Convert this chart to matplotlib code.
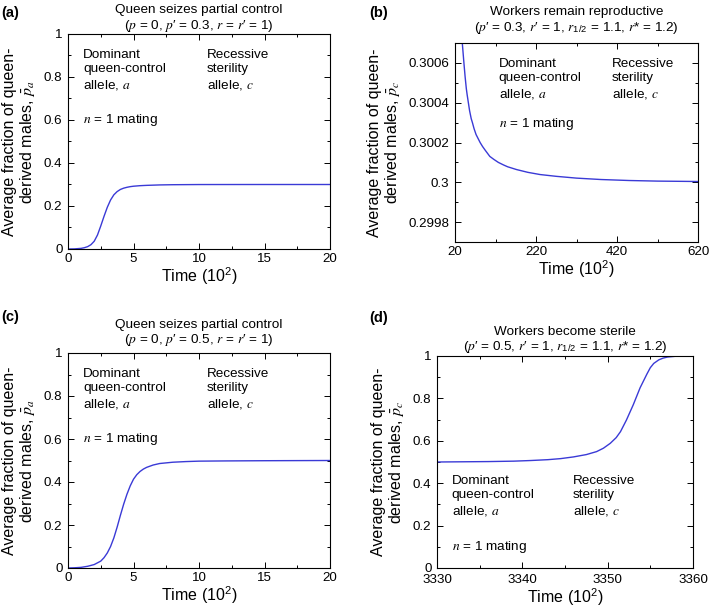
import numpy as np
import matplotlib
matplotlib.use("Agg")
import matplotlib.pyplot as plt
from matplotlib.ticker import MultipleLocator, FuncFormatter

plt.rcParams['font.family'] = ['Liberation Sans', 'DejaVu Sans']
plt.rcParams['mathtext.fontset'] = 'custom'
plt.rcParams['mathtext.rm'] = 'Liberation Sans'
plt.rcParams['mathtext.it'] = 'STIXGeneral:italic'
plt.rcParams['mathtext.bf'] = 'Liberation Sans:bold'
plt.rcParams['mathtext.sf'] = 'Liberation Sans'

# values
# (a) queen control, p' = 0.3
t_a = [0, 0.5, 1.0, 1.25, 1.5, 1.75, 2.0, 2.25, 2.5, 2.75, 3.0, 3.25, 3.5,
       3.75, 4.0, 4.25, 4.5, 4.75, 5.0, 5.5, 6.0, 7.0, 8.0, 10.0, 15.0, 20.0]
p_a = [0, 0.0005, 0.003, 0.006, 0.011, 0.02, 0.036, 0.065, 0.107, 0.152, 0.194,
       0.228, 0.252, 0.267, 0.277, 0.283, 0.287, 0.290, 0.292, 0.2945, 0.296,
       0.298, 0.299, 0.2998, 0.3, 0.3]

# (b) workers remain reproductive
t_b = [36, 38, 40, 42, 45, 48, 50, 53, 56, 60, 63, 67, 72, 77, 82, 88, 95,
       106, 116, 127, 140, 150, 172, 200, 230, 270, 320, 380, 450, 520, 620]
p_b = [0.30075, 0.30070, 0.30065, 0.30060, 0.30053, 0.30047, 0.30044,
       0.30040, 0.30036, 0.30032, 0.30030, 0.30027, 0.30024, 0.30022,
       0.30020, 0.30018, 0.30016, 0.30013, 0.300115, 0.30010, 0.300087,
       0.300078, 0.300064, 0.300050, 0.300039, 0.300030, 0.300021,
       0.300014, 0.300009, 0.300006, 0.300004]

# (c) queen control, p' = 0.5
t_c = [0, 0.5, 1.0, 1.5, 2.0, 2.5, 2.75, 3.0, 3.25, 3.5, 3.75, 4.0, 4.25,
       4.5, 4.75, 5.0, 5.25, 5.5, 5.75, 6.0, 6.5, 7.0, 8.0, 9.0, 10.0, 12.0,
       15.0, 20.0]
p_c = [0, 0.001, 0.003, 0.008, 0.016, 0.032, 0.048, 0.07, 0.1, 0.14, 0.19,
       0.245, 0.297, 0.343, 0.382, 0.413, 0.434, 0.449, 0.460, 0.468, 0.479,
       0.486, 0.492, 0.495, 0.497, 0.498, 0.499, 0.5]

# (d) workers become sterile
t_d = [3330, 3333, 3336, 3339, 3341, 3343, 3344.5, 3346, 3347.5, 3348.7,
       3349.5, 3350.3, 3351, 3351.5, 3352.2, 3353, 3353.8, 3354.6, 3355,
       3355.4, 3356, 3356.5, 3357, 3358, 3360]
p_d = [0.5, 0.501, 0.502, 0.504, 0.507, 0.511, 0.516, 0.524, 0.535, 0.549,
       0.565, 0.588, 0.615, 0.643, 0.698, 0.77, 0.85, 0.915, 0.945,
       0.965, 0.982, 0.99, 0.995, 0.999, 1.0]

titles = ["Queen seizes partial control\n($p$ = 0, $p$′ = 0.3, $r$ = $r$′ = 1)",
          "Workers remain reproductive\n($p$′ = 0.3, $r$′ = 1, $r_{\\mathrm{1/2}}$ = 1.1, $r$* = 1.2)",
          "Queen seizes partial control\n($p$ = 0, $p$′ = 0.5, $r$ = $r$′ = 1)",
          "Workers become sterile\n($p$′ = 0.5, $r$′ = 1, $r_{\\mathrm{1/2}}$ = 1.1, $r$* = 1.2)"]
ylabels = ["Average fraction of queen-\nderived males, $\\bar{p}_a$",
           "Average fraction of queen-\nderived males, $\\bar{p}_c$",
           "Average fraction of queen-\nderived males, $\\bar{p}_a$",
           "Average fraction of queen-\nderived males, $\\bar{p}_c$"]
letters = ["(a)", "(b)", "(c)", "(d)"]

W, H = 709.0, 606.0
LINE = '#3a3ad6'
fig = plt.figure(figsize=(W/100, H/100), dpi=100)

def px_axes(l, t, r, b):
    return fig.add_axes([l/W, 1-b/H, (r-l)/W, (b-t)/H])

def style(ax, xmaj, xmin, ymaj, ymin, xoff=0):
    ax.xaxis.set_major_locator(MultipleLocator(xmaj, offset=xoff))
    ax.xaxis.set_minor_locator(MultipleLocator(xmin, offset=xoff))
    ax.yaxis.set_major_locator(MultipleLocator(ymaj))
    ax.yaxis.set_minor_locator(MultipleLocator(ymin))
    ax.yaxis.set_major_formatter(FuncFormatter(lambda v, pos: '%g' % round(v, 6)))
    ax.xaxis.set_major_formatter(FuncFormatter(lambda v, pos: '%g' % round(v, 6)))
    ax.tick_params(which='both', direction='in', top=True, right=True,
                   labelsize=9.6, width=0.7)
    ax.tick_params(which='major', length=4, pad=4)
    ax.tick_params(axis='x', which='major', pad=3)
    ax.tick_params(which='minor', length=2.2)
    for s in ax.spines.values():
        s.set_linewidth(0.8)
    ax.set_xlabel("Time (10$^{\\mathrm{2}}$)", fontsize=11.5, labelpad=0)

def notes(ax, xl, xr, ytop, yn):
    ax.text(xl, ytop, "Dominant\nqueen-control\nallele, $a$", transform=ax.transAxes,
            fontsize=9.7, va='top', ha='left', linespacing=1.25)
    ax.text(xr, ytop, "Recessive\nsterility\nallele, $c$", transform=ax.transAxes,
            fontsize=9.7, va='top', ha='left', linespacing=1.25)
    ax.text(xl, yn, "$n$ = 1 mating", transform=ax.transAxes,
            fontsize=9.7, va='center', ha='left')

ax1 = px_axes(68, 34, 330, 249)
ax1.plot(t_a, p_a, color=LINE, lw=1.0)
ax1.set_xlim(0, 20)
ax1.set_ylim(0, 1)
style(ax1, 5, 2.5, 0.2, 0.1)
notes(ax1, 0.057, 0.53, 0.93, 0.60)

ax2 = px_axes(455, 43, 698, 242)
ax2.plot(t_b, p_b, color=LINE, lw=1.0)
ax2.set_xlim(20, 620)
ax2.set_ylim(0.2997, 0.3007)
style(ax2, 200, 100, 0.0002, 0.0001, xoff=20)
notes(ax2, 0.18, 0.645, 0.925, 0.595)

ax3 = px_axes(68, 353, 330, 568)
ax3.plot(t_c, p_c, color=LINE, lw=1.0)
ax3.set_xlim(0, 20)
ax3.set_ylim(0, 1)
style(ax3, 5, 2.5, 0.2, 0.1)
notes(ax3, 0.057, 0.53, 0.93, 0.60)

ax4 = px_axes(437, 356, 693, 568)
ax4.plot(t_d, p_d, color=LINE, lw=1.0)
ax4.set_xlim(3330, 3360)
ax4.set_ylim(0, 1)
style(ax4, 10, 5, 0.2, 0.1)
ax4.tick_params(axis='x', which='major', pad=4.5)
notes(ax4, 0.057, 0.53, 0.44, 0.10)

axes = [ax1, ax2, ax3, ax4]
pads = [2, 9, 7, 4]
for i in range(4):
    axes[i].set_title(titles[i], fontsize=9.7, linespacing=1.15, pad=pads[i])
    axes[i].set_ylabel(ylabels[i], fontsize=11.5, linespacing=1.05, labelpad=5)

fig.text(1/W, 1-12.5/H, letters[0], fontsize=10.5, fontweight='bold', va='center')
fig.text(369/W, 1-12.5/H, letters[1], fontsize=10.5, fontweight='bold', va='center')
fig.text(1/W, 1-317/H, letters[2], fontsize=10.5, fontweight='bold', va='center')
fig.text(369/W, 1-318/H, letters[3], fontsize=10.5, fontweight='bold', va='center')

fig.savefig("out.png", dpi=100)
